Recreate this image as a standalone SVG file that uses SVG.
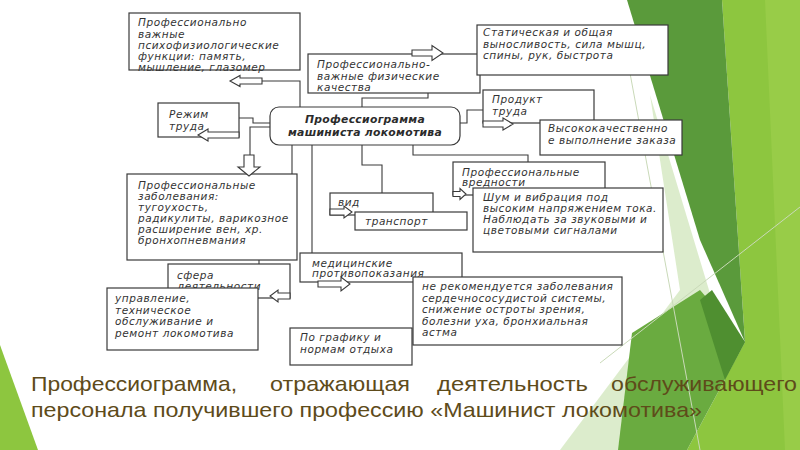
<svg xmlns="http://www.w3.org/2000/svg" width="800" height="450" viewBox="0 0 800 450">
<style>
.box{fill:#fff;stroke:#3a3a3a;stroke-width:1.2}
.t{font-family:"DejaVu Sans","Liberation Sans",sans-serif;font-style:italic;font-size:10.5px;letter-spacing:0.55px;fill:#333}
.tb{font-family:"DejaVu Sans","Liberation Sans",sans-serif;font-style:italic;font-weight:bold;font-size:10.8px;letter-spacing:0.3px;fill:#2b2b2b}
.ln{fill:none;stroke:#3a3a3a;stroke-width:1.1}
.ar{fill:#fff;stroke:#3a3a3a;stroke-width:1.1;stroke-linejoin:miter}
.cap{font-family:"Liberation Sans","DejaVu Sans",sans-serif;font-size:21px;fill:#5e4b1a}
</style>
<rect width="800" height="450" fill="#fff"/>
<g id="background">
<polygon points="722,0 800,0 800,450 687,450 745,342" fill="#8dc63f"/>
<polygon points="765,0 800,0 800,450 785,450" fill="#98cc48"/>
<polygon points="627,0 722,0 745,342 700,240" fill="#5a9a3b"/>
<polygon points="650,95 712,300 618,450 560,450 680,290" fill="#d8eac6" opacity="0.9"/>
<polygon points="700,290 745,342 687,450 618,450 632,333" fill="#6aab40"/>
<polygon points="712,290 745,342 725,380 700,300" fill="#4f8f30"/>
<polygon points="0,345 38,450 0,450" fill="#8dc63f"/>
<line x1="600" y1="363" x2="800" y2="207" stroke="#c9d9b8" stroke-width="1"/>
<line x1="627" y1="57" x2="700" y2="450" stroke="#c9d9b8" stroke-width="1"/>
</g>
<g id="nodes">
<g id="psy">
<rect class="box" x="129" y="13" width="171" height="57"/>
<text class="t" x="138" y="26">Профессионально</text>
<text class="t" x="138" y="37.5">важные</text>
<text class="t" x="138" y="49">психофизиологические</text>
<text class="t" x="138" y="60">функции: память,</text>
<text class="t" x="138" y="71">мышление, глазомер</text>
</g>
<g id="phys">
<rect class="box" x="308" y="54" width="172" height="39"/>
<text class="t" x="317" y="68">Профессионально-</text>
<text class="t" x="317" y="79.5">важные физические</text>
<text class="t" x="317" y="91">качества</text>
</g>
<g id="static">
<rect class="box" x="477" y="25" width="191" height="50"/>
<text class="t" x="483" y="36">Статическая и общая</text>
<text class="t" x="483" y="47.5">выносливость, сила мышц,</text>
<text class="t" x="483" y="59">спины, рук, быстрота</text>
</g>
<g id="rezhim">
<rect class="box" x="158" y="103" width="81" height="34"/>
<text class="t" x="169" y="118">Режим</text>
<text class="t" x="169" y="130">труда</text>
</g>
<g id="center">
<rect class="box" x="270" y="107" width="190" height="38" rx="9"/>
<text class="tb" x="365" y="123" text-anchor="middle">Профессиограмма</text>
<text class="tb" x="365" y="135.5" text-anchor="middle">машиниста локомотива</text>
</g>
<g id="product">
<rect class="box" x="483" y="90" width="111" height="33"/>
<text class="t" x="492" y="103">Продукт</text>
<text class="t" x="492" y="114.5">труда</text>
</g>
<g id="quality">
<rect class="box" x="540" y="120" width="142" height="35"/>
<text class="t" x="548" y="132">Высококачественно</text>
<text class="t" x="548" y="144">е выполнение заказа</text>
</g>
<g id="harm">
<rect class="box" x="453" y="162" width="152" height="33"/>
<text class="t" x="462" y="175.5">Профессиональные</text>
<text class="t" x="462" y="186">вредности</text>
</g>
<g id="noise">
<rect class="box" x="473" y="188" width="190" height="64"/>
<text class="t" x="483" y="201">Шум и вибрация под</text>
<text class="t" x="483" y="212">высоким напряжением тока.</text>
<text class="t" x="483" y="223">Наблюдать за звуковыми и</text>
<text class="t" x="483" y="234">цветовыми сигналами</text>
</g>
<g id="vid">
<rect class="box" x="330" y="193" width="103" height="22"/>
<text class="t" x="338" y="206">вид</text>
</g>
<g id="transport">
<rect class="box" x="355" y="212" width="112" height="18"/>
<text class="t" x="365" y="225">транспорт</text>
</g>
<g id="disease">
<rect class="box" x="127" y="174" width="170" height="86"/>
<text class="t" x="138" y="189">Профессиональные</text>
<text class="t" x="138" y="200">заболевания:</text>
<text class="t" x="138" y="211">тугоухость,</text>
<text class="t" x="138" y="222">радикулиты, варикозное</text>
<text class="t" x="138" y="233">расширение вен, хр.</text>
<text class="t" x="138" y="244">бронхопневмания</text>
</g>
<g id="sphere">
<rect class="box" x="168" y="264" width="122" height="34"/>
<text class="t" x="177" y="279">сфера</text>
<text class="t" x="177" y="290">деятельности</text>
</g>
<g id="manage">
<rect class="box" x="107" y="288" width="151" height="62"/>
<text class="t" x="115" y="302">управление,</text>
<text class="t" x="115" y="313.5">техническое</text>
<text class="t" x="115" y="325">обслуживание и</text>
<text class="t" x="115" y="336.5">ремонт локомотива</text>
</g>
<g id="med">
<rect class="box" x="300" y="253" width="162" height="29"/>
<text class="t" x="312" y="266.5">медицинские</text>
<text class="t" x="312" y="277">противопоказания</text>
</g>
<g id="notrec">
<rect class="box" x="413" y="277" width="209" height="68"/>
<text class="t" x="422" y="290">не рекомендуется заболевания</text>
<text class="t" x="422" y="301.5">сердечнососудистой системы,</text>
<text class="t" x="422" y="313">снижение остроты зрения,</text>
<text class="t" x="422" y="324.5">болезни уха, бронхиальная</text>
<text class="t" x="422" y="336">астма</text>
</g>
<g id="schedule">
<rect class="box" x="290" y="328" width="122" height="37"/>
<text class="t" x="300" y="341">По графику и</text>
<text class="t" x="300" y="352.5">нормам отдыха</text>
</g>
</g>
<g id="connectors">
<polyline class="ln" points="239,118 253,118 253,123 270,123"/>
<polyline class="ln" points="270,127 250,127 250,155"/>
<polyline class="ln" points="300,107 300,81 262,81"/>
<polyline class="ln" points="362,107 362,98 428,98 428,93"/>
<polyline class="ln" points="460,123 467,123 467,110 483,110"/>
<line class="ln" x1="292" y1="145" x2="292" y2="174"/>
<line class="ln" x1="312" y1="145" x2="312" y2="253"/>
<polyline class="ln" points="362,145 362,165 382,165 382,193"/>
<polyline class="ln" points="413,145 413,155 528,155 528,162"/>
<line class="ln" x1="259" y1="260" x2="259" y2="264"/>
<polygon class="ar" points="412,50 432,50 432,45.5 443,53 432,60.5 432,56 412,56"/>
<polygon class="ar" points="262,78 240,78 240,75.5 230,81 240,86.5 240,84 262,84"/>
<polygon class="ar" points="239,132 208,132 208,129 198,135 208,141 208,138 239,138"/>
<polygon class="ar" points="244,155 244,167 238,167 249,176 260,167 254,167 254,155"/>
<polygon class="ar" points="483,121 503,121 503,118 513,124 503,130 503,127 483,127"/>
<polygon class="ar" points="453,191.5 460,191.5 460,188.5 466,194 460,199.5 460,196.5 453,196.5"/>
<polygon class="ar" points="330,209 344,209 344,206 352,212 344,218 344,215 330,215"/>
<polygon class="ar" points="290,293 278,293 278,290 270,296 278,302 278,299 290,299"/>
<polygon class="ar" points="318,281 341,281 341,277 350,284 341,291 341,287 318,287"/>
</g>
<g id="caption">
<text class="cap" x="31" y="391" textLength="206" lengthAdjust="spacingAndGlyphs">Профессиограмма,</text>
<text class="cap" x="270" y="391" textLength="140" lengthAdjust="spacingAndGlyphs">отражающая</text>
<text class="cap" x="437" y="391" textLength="151" lengthAdjust="spacingAndGlyphs">деятельность</text>
<text class="cap" x="611" y="391" textLength="186" lengthAdjust="spacingAndGlyphs">обслуживающего</text>
<text class="cap" x="31" y="417" textLength="671" lengthAdjust="spacingAndGlyphs">персонала получившего профессию «Машинист локомотива»</text>
</g>
</svg>
